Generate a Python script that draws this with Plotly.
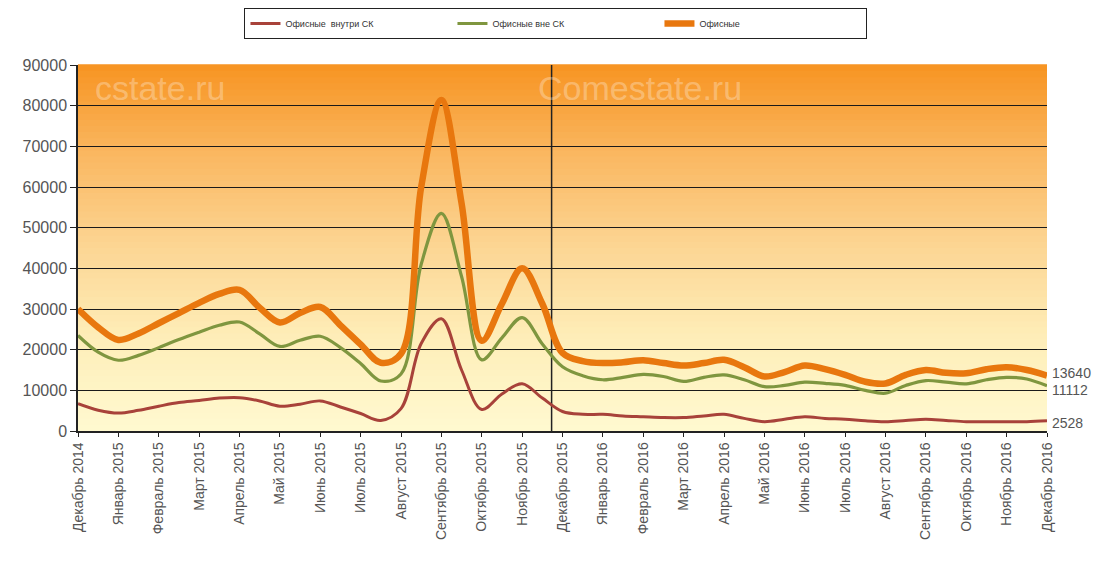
import plotly.graph_objects as go

# ---- data ----
months = ["Декабрь 2014", "Январь 2015", "Февраль 2015", "Март 2015", "Апрель 2015",
          "Май 2015", "Июнь 2015", "Июль 2015", "Август 2015", "Сентябрь 2015",
          "Октябрь 2015", "Ноябрь 2015", "Декабрь 2015", "Январь 2016", "Февраль 2016",
          "Март 2016", "Апрель 2016", "Май 2016", "Июнь 2016", "Июль 2016",
          "Август 2016", "Сентябрь 2016", "Октябрь 2016", "Ноябрь 2016", "Декабрь 2016"]

# positions in months from Dec 2014 (half-month observations)
t = [0, 0.5, 1, 1.5, 2, 2.5, 3, 3.5, 4, 4.5, 5, 5.5, 6, 6.5, 7, 7.5, 8, 8.5, 9, 9.5,
     10, 10.5, 11, 11.5, 12, 12.5, 13, 13.5, 14, 14.5, 15, 15.5, 16, 16.5, 17, 17.5,
     18, 18.5, 19, 19.5, 20, 20.5, 21, 21.5, 22, 22.5, 23, 23.5, 24]

office_total = [30000, 25500, 22400, 24000, 26500, 29000, 31500, 33700, 34700, 30300,
                26700, 29000, 30500, 26000, 21300, 16800, 19000, 60000, 81400, 56000,
                22200, 31300, 40000, 31300, 19200, 17200, 16700, 16900, 17400, 16700,
                16100, 16700, 17500, 15700, 13400, 14500, 16100, 15200, 13800, 12100,
                11700, 13800, 15000, 14300, 14200, 15200, 15700, 15000, 13640]

office_outside = [23500, 19400, 17400, 18600, 20500, 22500, 24300, 26000, 26800, 23900,
                  20800, 22300, 23300, 20500, 16600, 12300, 14000, 41000, 53500, 38000,
                  17500, 22900, 27900, 21400, 15800, 13600, 12600, 13200, 13900, 13400,
                  12200, 13200, 13800, 12600, 10900, 11200, 12000, 11700, 11200, 10000,
                  9300, 11200, 12400, 12000, 11600, 12600, 13200, 12800, 11112]

office_inside = [6700, 5100, 4400, 5100, 6100, 7000, 7500, 8100, 8200, 7400,
                 6100, 6600, 7400, 5900, 4300, 2600, 5500, 21500, 27600, 15000,
                 5300, 9100, 11600, 8100, 4800, 4100, 4100, 3700, 3500, 3300,
                 3300, 3700, 4100, 3100, 2300, 2900, 3500, 3100, 2900, 2500,
                 2300, 2600, 2900, 2600, 2300, 2300, 2300, 2300, 2528]

names = ["Офисные  внутри СК", "Офисные вне СК", "Офисные"]
divider_at = 11.73  # vertical separator position (months)

# ---- figure ----
FONT = "Liberation Sans, Arial, sans-serif"
fig = go.Figure()

series = [
    (names[0], office_inside, "#A8423A", 3, -2),
    (names[1], office_outside, "#7F963F", 3.2, -4),
    (names[2], office_total, "#E8770E", 6.5, 3),
]
for name, vals, color, w, _ in series:
    fig.add_trace(go.Scatter(
        x=t, y=vals, name=name, mode="lines",
        line=dict(color=color, width=w, shape="spline", smoothing=1.0),
        hoverinfo="skip",
    ))

# end-value labels
for name, vals, color, w, ys in series:
    fig.add_annotation(x=t[-1], y=vals[-1], text=str(vals[-1]), showarrow=False,
                       xanchor="left", yanchor="middle", xshift=3, yshift=ys,
                       font=dict(family=FONT, size=14, color="#555555"))

# gradient background (orange top -> pale yellow bottom)
stops = [(0.0, (255, 249, 208)), (0.25, (254, 238, 185)), (0.5, (252, 214, 148)),
         (0.75, (250, 184, 98)), (1.0, (247, 148, 34))]
def col_at(f):
    for (f0, c0), (f1, c1) in zip(stops[:-1], stops[1:]):
        if f0 <= f <= f1:
            k = (f - f0) / (f1 - f0)
            return "rgb(%d,%d,%d)" % tuple(round(a + (b - a) * k) for a, b in zip(c0, c1))
    return "rgb(%d,%d,%d)" % stops[-1][1]

n = 60
for i in range(n):
    f0, f1 = i / n, (i + 1) / n
    fig.add_shape(type="rect", xref="x domain", yref="y domain", x0=0, x1=1,
                  y0=f0, y1=f1 + 0.002, fillcolor=col_at((f0 + f1) / 2),
                  line=dict(width=0), layer="below")

# vertical divider
fig.add_shape(type="line", xref="x", yref="y domain", x0=divider_at, x1=divider_at,
              y0=0, y1=1, line=dict(color="#222222", width=1.5), layer="below")

# watermarks
for txt, xx in [("cstate.ru", 0.085), ("Comestate.ru", 0.58)]:
    fig.add_annotation(xref="x domain", yref="y domain", x=xx, y=0.995, text=txt,
                       showarrow=False, xanchor="center", yanchor="top",
                       font=dict(family=FONT, size=34, color="rgba(255,255,255,0.3)"))

# (page body adds an 8px offset; margins compensate for it)
fig.update_layout(
    width=1107, height=577,
    margin=dict(l=70, r=68, t=57, b=154, autoexpand=False),
    paper_bgcolor="white", plot_bgcolor="white",
    font=dict(family=FONT, color="#555555"),
    showlegend=True,
    legend=dict(orientation="h", x=0.495, xanchor="center", xref="container",
                y=1.0, yanchor="top", yref="container",
                bordercolor="#222222", borderwidth=1, bgcolor="white",
                font=dict(family=FONT, size=9, color="#333333"),
                entrywidth=162, tracegroupgap=0),
)
fig.update_xaxes(
    range=[0, 24], tickmode="array", tickvals=list(range(len(months))), ticktext=months,
    tickangle=-90, ticks="outside", ticklen=4, tickcolor="#222222", automargin=False,
    showline=True, linecolor="#222222", linewidth=1.5, showgrid=False, zeroline=False,
    tickfont=dict(family=FONT, size=14, color="#555555"),
)
fig.update_yaxes(
    range=[0, 90000], dtick=10000, tickformat="d", ticks="outside", ticklen=6,
    tickcolor="#222222", showline=True, linecolor="#222222", linewidth=1.5, automargin=False,
    showgrid=True, gridcolor="#1a1a1a", gridwidth=1.3, zeroline=False,
    tickfont=dict(family=FONT, size=16, color="#555555"),
)

fig.write_html("out.html")
